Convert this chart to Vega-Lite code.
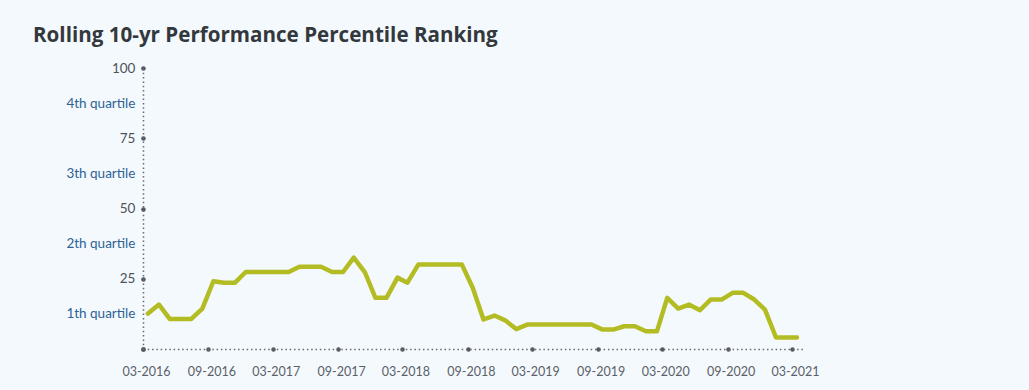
{
  "$schema": "https://vega.github.io/schema/vega-lite/v6.json",
  "autosize": "none",
  "width": 660,
  "height": 281,
  "padding": {"left": 143, "top": 68, "right": 226, "bottom": 41},
  "background": "#f4f9fd",
  "title": {
    "text": "Rolling 10-yr Performance Percentile Ranking",
    "anchor": "start",
    "frame": "group",
    "dx": -110,
    "dy": 20,
    "baseline": "alphabetic",
    "offset": 18,
    "font": "Open Sans",
    "fontSize": 20.6,
    "fontWeight": "bold",
    "color": "#33383d"
  },
  "config": {
    "view": {"stroke": null},
    "axis": {"labelFont": "Lato", "grid": false}
  },
  "data": {
    "values": [
      {"date": "2016-03-15", "value": 12.6},
      {"date": "2016-04-15", "value": 15.8},
      {"date": "2016-05-15", "value": 10.7},
      {"date": "2016-06-15", "value": 10.7},
      {"date": "2016-07-15", "value": 10.7},
      {"date": "2016-08-15", "value": 14.4},
      {"date": "2016-09-15", "value": 24.1},
      {"date": "2016-10-15", "value": 23.6},
      {"date": "2016-11-15", "value": 23.6},
      {"date": "2016-12-15", "value": 27.4},
      {"date": "2017-01-15", "value": 27.4},
      {"date": "2017-02-15", "value": 27.4},
      {"date": "2017-03-15", "value": 27.4},
      {"date": "2017-04-15", "value": 27.4},
      {"date": "2017-05-15", "value": 29.3},
      {"date": "2017-06-15", "value": 29.3},
      {"date": "2017-07-15", "value": 29.3},
      {"date": "2017-08-15", "value": 27.4},
      {"date": "2017-09-15", "value": 27.4},
      {"date": "2017-10-15", "value": 32.5},
      {"date": "2017-11-15", "value": 27.4},
      {"date": "2017-12-15", "value": 18.2},
      {"date": "2018-01-15", "value": 18.2},
      {"date": "2018-02-15", "value": 25.4},
      {"date": "2018-03-15", "value": 23.6},
      {"date": "2018-04-15", "value": 30.1},
      {"date": "2018-05-15", "value": 30.1},
      {"date": "2018-06-15", "value": 30.1},
      {"date": "2018-07-15", "value": 30.1},
      {"date": "2018-08-15", "value": 30.1},
      {"date": "2018-09-15", "value": 21.7},
      {"date": "2018-10-15", "value": 10.5},
      {"date": "2018-11-15", "value": 11.9},
      {"date": "2018-12-15", "value": 10.2},
      {"date": "2019-01-15", "value": 7.1},
      {"date": "2019-02-15", "value": 8.7},
      {"date": "2019-03-15", "value": 8.7},
      {"date": "2019-04-15", "value": 8.7},
      {"date": "2019-05-15", "value": 8.7},
      {"date": "2019-06-15", "value": 8.7},
      {"date": "2019-07-15", "value": 8.7},
      {"date": "2019-08-15", "value": 8.7},
      {"date": "2019-09-15", "value": 6.9},
      {"date": "2019-10-15", "value": 6.9},
      {"date": "2019-11-15", "value": 8.1},
      {"date": "2019-12-15", "value": 8.1},
      {"date": "2020-01-15", "value": 6.3},
      {"date": "2020-02-15", "value": 6.3},
      {"date": "2020-03-15", "value": 18.2},
      {"date": "2020-04-15", "value": 14.4},
      {"date": "2020-05-15", "value": 15.8},
      {"date": "2020-06-15", "value": 13.8},
      {"date": "2020-07-15", "value": 17.6},
      {"date": "2020-08-15", "value": 17.6},
      {"date": "2020-09-15", "value": 20.0},
      {"date": "2020-10-15", "value": 20.0},
      {"date": "2020-11-15", "value": 17.6},
      {"date": "2020-12-15", "value": 14.0},
      {"date": "2021-01-15", "value": 4.1},
      {"date": "2021-02-15", "value": 4.1},
      {"date": "2021-03-15", "value": 4.1}
    ]
  },
  "mark": {"type": "line", "color": "#b3bd23", "strokeWidth": 4.5, "strokeCap": "round", "strokeJoin": "round"},
  "encoding": {
    "x": {
      "field": "date",
      "type": "temporal",
      "scale": {"type": "utc", "domain": [{"year": 2016, "month": 3, "date": 1, "utc": true}, {"year": 2021, "month": 4, "date": 1, "utc": true}]},
      "axis": {
        "title": null,
        "values": [
          {"year": 2016, "month": 3, "date": 1, "utc": true},
          {"year": 2016, "month": 9, "date": 1, "utc": true},
          {"year": 2017, "month": 3, "date": 1, "utc": true},
          {"year": 2017, "month": 9, "date": 1, "utc": true},
          {"year": 2018, "month": 3, "date": 1, "utc": true},
          {"year": 2018, "month": 9, "date": 1, "utc": true},
          {"year": 2019, "month": 3, "date": 1, "utc": true},
          {"year": 2019, "month": 9, "date": 1, "utc": true},
          {"year": 2020, "month": 3, "date": 1, "utc": true},
          {"year": 2020, "month": 9, "date": 1, "utc": true},
          {"year": 2021, "month": 3, "date": 1, "utc": true}
        ],
        "labelExpr": "utcFormat(datum.value, '%m-%Y')",
        "labelFontSize": 12.5,
        "labelColor": "#5b6068",
        "labelPadding": 16,
        "labelOffset": 3,
        "labelOverlap": false,
        "labelFlush": false,
        "domainColor": "#666a70",
        "domainWidth": 1.5,
        "domainDash": [1.5, 2.8],
        "tickColor": "#55595f",
        "tickSize": 0.1,
        "tickWidth": 4.5,
        "tickCap": "round"
      }
    },
    "y": {
      "field": "value",
      "type": "quantitative",
      "scale": {"domain": [0, 100], "nice": false, "zero": true},
      "axis": {
        "title": null,
        "values": [0, 12.5, 25, 37.5, 50, 62.5, 75, 87.5, 100],
        "labelExpr": "datum.value == 0 ? '' : datum.value == 12.5 ? '1th quartile' : datum.value == 37.5 ? '2th quartile' : datum.value == 62.5 ? '3th quartile' : datum.value == 87.5 ? '4th quartile' : datum.label",
        "labelFontSize": 13.5,
        "labelColor": {"condition": {"test": "datum.value % 25 == 0", "value": "#4e5359"}, "value": "#2e6294"},
        "labelPadding": 8,
        "labelOverlap": false,
        "labelFlush": false,
        "domainColor": "#666a70",
        "domainWidth": 1.5,
        "domainDash": [1.5, 2.8],
        "tickColor": {"condition": {"test": "datum.value % 25 == 0", "value": "#55595f"}, "value": "transparent"},
        "tickSize": 0.1,
        "tickWidth": 4.5,
        "tickCap": "round"
      }
    }
  }
}
